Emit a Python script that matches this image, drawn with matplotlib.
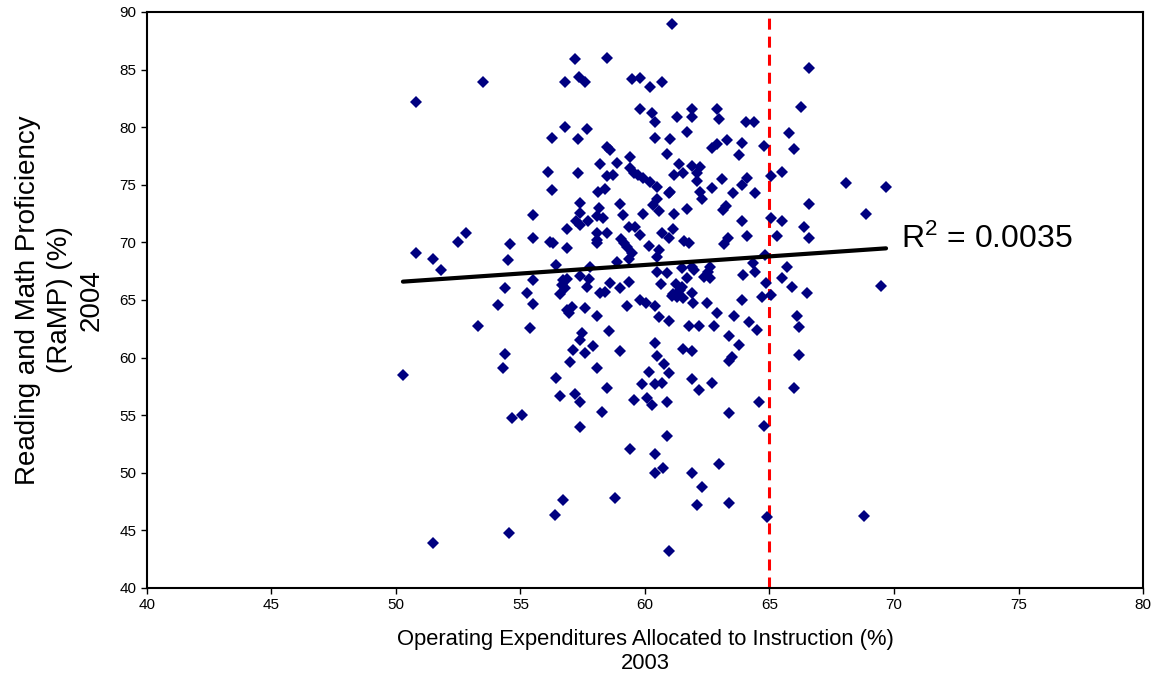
import numpy as np
import matplotlib
matplotlib.use('Agg')
import matplotlib.pyplot as plt

plt.rcParams['font.family'] = ['Liberation Sans', 'DejaVu Sans']
plt.rcParams['mathtext.default'] = 'regular'

# % of operating expenditures allocated to instruction, 2003
instr_2003 = [
    53.50, 50.79,
    57.19, 58.49, 56.80, 57.36, 57.59, 59.49, 59.78, 59.78, 56.80, 57.68, 56.28, 57.30,
    58.49, 58.59, 59.40, 58.19, 58.89, 56.09, 57.30, 59.40, 59.56, 59.73, 59.93, 58.49,
    58.70, 56.28, 58.10, 58.39,
    61.08, 60.20, 60.68, 60.29, 60.39, 61.30, 61.87, 61.87, 62.89, 62.98, 64.06, 64.39,
    60.39, 60.99, 61.69, 60.90, 62.68, 62.88, 63.28, 63.88, 63.79, 64.78, 61.38, 61.87,
    62.21, 61.18, 61.51, 62.08, 62.10, 60.20, 60.47, 61.00, 62.68, 63.08, 63.88, 64.08,
    65.06, 64.42, 63.55, 62.21,
    66.60, 66.27, 65.80, 65.98, 65.49, 68.08, 69.68,
    50.79, 51.47, 51.79, 52.48, 52.80, 54.58, 54.48, 54.38, 54.10, 53.28, 54.38, 54.28,
    50.28,
    57.39, 55.49, 57.39, 58.17, 58.09, 58.33, 59.00, 59.10, 59.91, 57.24, 57.39, 57.70,
    56.88, 55.49, 58.06, 58.09, 58.09, 58.49, 59.37, 59.60, 59.78, 56.18, 56.29, 56.88,
    59.04, 59.17, 59.27, 59.47, 59.37, 58.89, 56.41, 57.79, 57.39, 55.49, 56.72, 56.88,
    56.65, 56.79, 57.76, 57.68, 58.59, 59.36, 59.00, 55.27, 56.59, 58.19, 58.39, 55.49,
    59.80, 59.29, 56.88, 57.05, 56.96, 57.59, 58.09, 55.38, 58.56, 57.46, 57.39, 57.09,
    57.90, 57.59, 59.00, 56.99, 58.09,
    56.41, 56.59, 57.19, 57.39, 58.49, 58.29, 57.39, 54.65, 55.07, 59.87, 59.57, 59.40,
    56.69, 56.39, 58.78, 54.52, 51.47,
    60.98, 62.27, 60.47, 60.31, 60.57, 61.18, 61.67, 63.25, 63.15, 63.88, 65.08, 60.70,
    61.14, 60.98, 61.57, 61.78, 63.35, 63.17, 64.08, 60.17, 60.57, 60.47, 64.82, 61.47,
    61.87, 61.98, 62.61, 62.55, 60.47, 60.87, 64.35, 64.42, 63.95, 62.35, 62.61, 61.67,
    60.66, 61.24, 61.47, 61.41, 61.14, 61.07, 61.87, 61.51, 61.30, 64.86, 64.69, 63.88,
    60.04, 60.40, 61.94, 62.48, 62.88, 63.59, 64.19, 64.48, 60.57, 60.98, 61.78, 62.18,
    62.77, 63.39, 63.79, 60.40, 61.54, 61.87, 60.47, 63.48, 63.39, 60.76, 60.17, 60.98,
    60.40, 60.67, 61.87, 62.68, 62.18, 60.07, 60.29, 60.90, 64.58, 63.39, 64.78, 60.90,
    60.40, 60.71, 60.40, 61.87, 62.98, 62.27, 62.08, 63.39, 64.88, 60.98,
    65.98, 68.80,
    66.60, 68.88, 65.49, 66.39, 65.29, 66.59, 65.69, 65.49, 65.89, 65.08, 66.49, 69.48,
    66.09, 66.20, 66.20,
]

# Reading and math proficiency (RaMP) %, 2004
ramp_2004 = [
    83.95, 82.16,
    85.92, 86.03, 83.95, 84.38, 83.95, 84.18, 84.24, 81.58, 80.05, 79.87, 79.06, 78.98,
    78.31, 78.02, 77.41, 76.81, 76.86, 76.14, 76.00, 76.43, 76.00, 75.85, 75.56, 75.79,
    75.85, 74.55, 74.40, 74.64,
    88.93, 83.52, 83.95, 81.20, 80.42, 80.86, 81.58, 80.86, 81.58, 80.71, 80.48, 80.48,
    79.06, 78.98, 79.56, 77.67, 78.17, 78.54, 78.89, 78.66, 77.56, 78.37, 76.81, 76.63,
    76.57, 75.88, 76.00, 76.00, 75.36, 75.27, 74.84, 74.40, 74.70, 75.50, 74.98, 75.56,
    75.79, 74.31, 74.26, 74.40,
    85.11, 81.73, 79.47, 78.08, 76.14, 75.18, 74.84,
    69.08, 68.56, 67.60, 70.06, 70.79, 69.89, 68.47, 66.07, 64.57, 62.77, 60.31, 59.07,
    58.50,
    73.45, 72.35, 72.54, 72.96, 72.32, 72.09, 73.31, 72.35, 72.47, 71.86, 71.51, 71.86,
    71.14, 70.41, 70.85, 70.21, 69.92, 70.79, 71.31, 71.36, 70.64, 70.00, 69.92, 69.49,
    70.27, 69.92, 69.57, 69.05, 68.56, 68.33, 68.04, 67.89, 67.08, 66.74, 66.74, 66.80,
    66.30, 66.01, 66.80, 66.15, 66.50, 66.59, 66.01, 65.58, 65.52, 65.58, 65.72, 64.65,
    65.00, 64.51, 64.13, 64.42, 63.85, 64.28, 63.61, 62.60, 62.31, 62.11, 61.53, 60.66,
    61.03, 60.37, 60.57, 59.59, 59.12,
    58.20, 56.69, 56.84, 56.12, 57.33, 55.30, 54.00, 54.73, 55.02, 57.71, 56.32, 52.09,
    47.64, 46.34, 47.84, 44.75, 43.93,
    74.26, 73.74, 73.74, 73.25, 72.75, 72.47, 72.87, 73.16, 72.81, 71.86, 72.09, 70.79,
    71.14, 70.36, 70.15, 69.97, 70.36, 69.84, 70.58, 69.69, 69.34, 68.76, 68.91, 67.75,
    67.89, 67.60, 67.89, 67.46, 67.46, 67.32, 68.19, 67.40, 67.17, 66.97, 66.88, 66.88,
    66.39, 66.39, 66.16, 65.87, 65.52, 65.35, 65.58, 65.15, 65.23, 66.45, 65.29, 65.00,
    64.71, 64.48, 64.71, 64.71, 63.90, 63.61, 63.06, 62.40, 63.55, 63.20, 62.74, 62.74,
    62.74, 61.90, 61.09, 61.29, 60.72, 60.57, 60.17, 60.08, 59.73, 59.42, 58.78, 58.69,
    57.71, 57.77, 58.12, 57.77, 57.19, 56.52, 55.89, 56.12, 56.12, 55.22, 54.09, 53.19,
    51.60, 50.44, 49.96, 50.01, 50.74, 48.74, 47.20, 47.40, 46.19, 43.21,
    57.39, 46.25,
    73.31, 72.47, 71.86, 71.31, 70.58, 70.36, 67.89, 66.88, 66.16, 65.43, 65.58, 66.24,
    63.61, 62.68, 60.23,
]

# linear trend as shown on the chart
trend_slope = 0.149
trend_intercept = 59.10
r_squared = 0.0035
threshold = 65

x = np.array(instr_2003)
y = np.array(ramp_2004)

fig = plt.figure(figsize=(11.59, 6.77), dpi=100)
ax = fig.add_axes([0.1268, 0.1315, 0.8594, 0.8508])

ax.plot(x, y, linestyle='none', marker='D', markersize=5.8, color='#000080',
        markeredgewidth=0, zorder=3)

tx = np.array([x.min(), x.max()])
ax.plot(tx, trend_intercept + trend_slope * tx, color='black', linewidth=3, zorder=4,
        solid_capstyle='round')

ax.axvline(threshold, color='#ff0000', linewidth=2.2, linestyle=(0, (3.6, 2.3)), zorder=2)

ax.text(70.3, 70.3, 'R$^{2}$ = %.4f' % r_squared, fontsize=23, va='center', ha='left')

ax.set_xlim(40, 80)
ax.set_ylim(40, 90)
ax.set_xticks(np.arange(40, 81, 5))
ax.set_yticks(np.arange(40, 91, 5))
ax.tick_params(labelsize=11, length=4, width=1, direction='out')
for s in ax.spines.values():
    s.set_linewidth(1.5)

ax.set_xlabel('Operating Expenditures Allocated to Instruction (%)\n2003', fontsize=15.8,
              linespacing=1.2, labelpad=12)
ax.set_ylabel('Reading and Math Proficiency\n(RaMP) (%)\n2004', fontsize=20,
              linespacing=1.28, labelpad=11)

fig.savefig('out.png', dpi=100)
